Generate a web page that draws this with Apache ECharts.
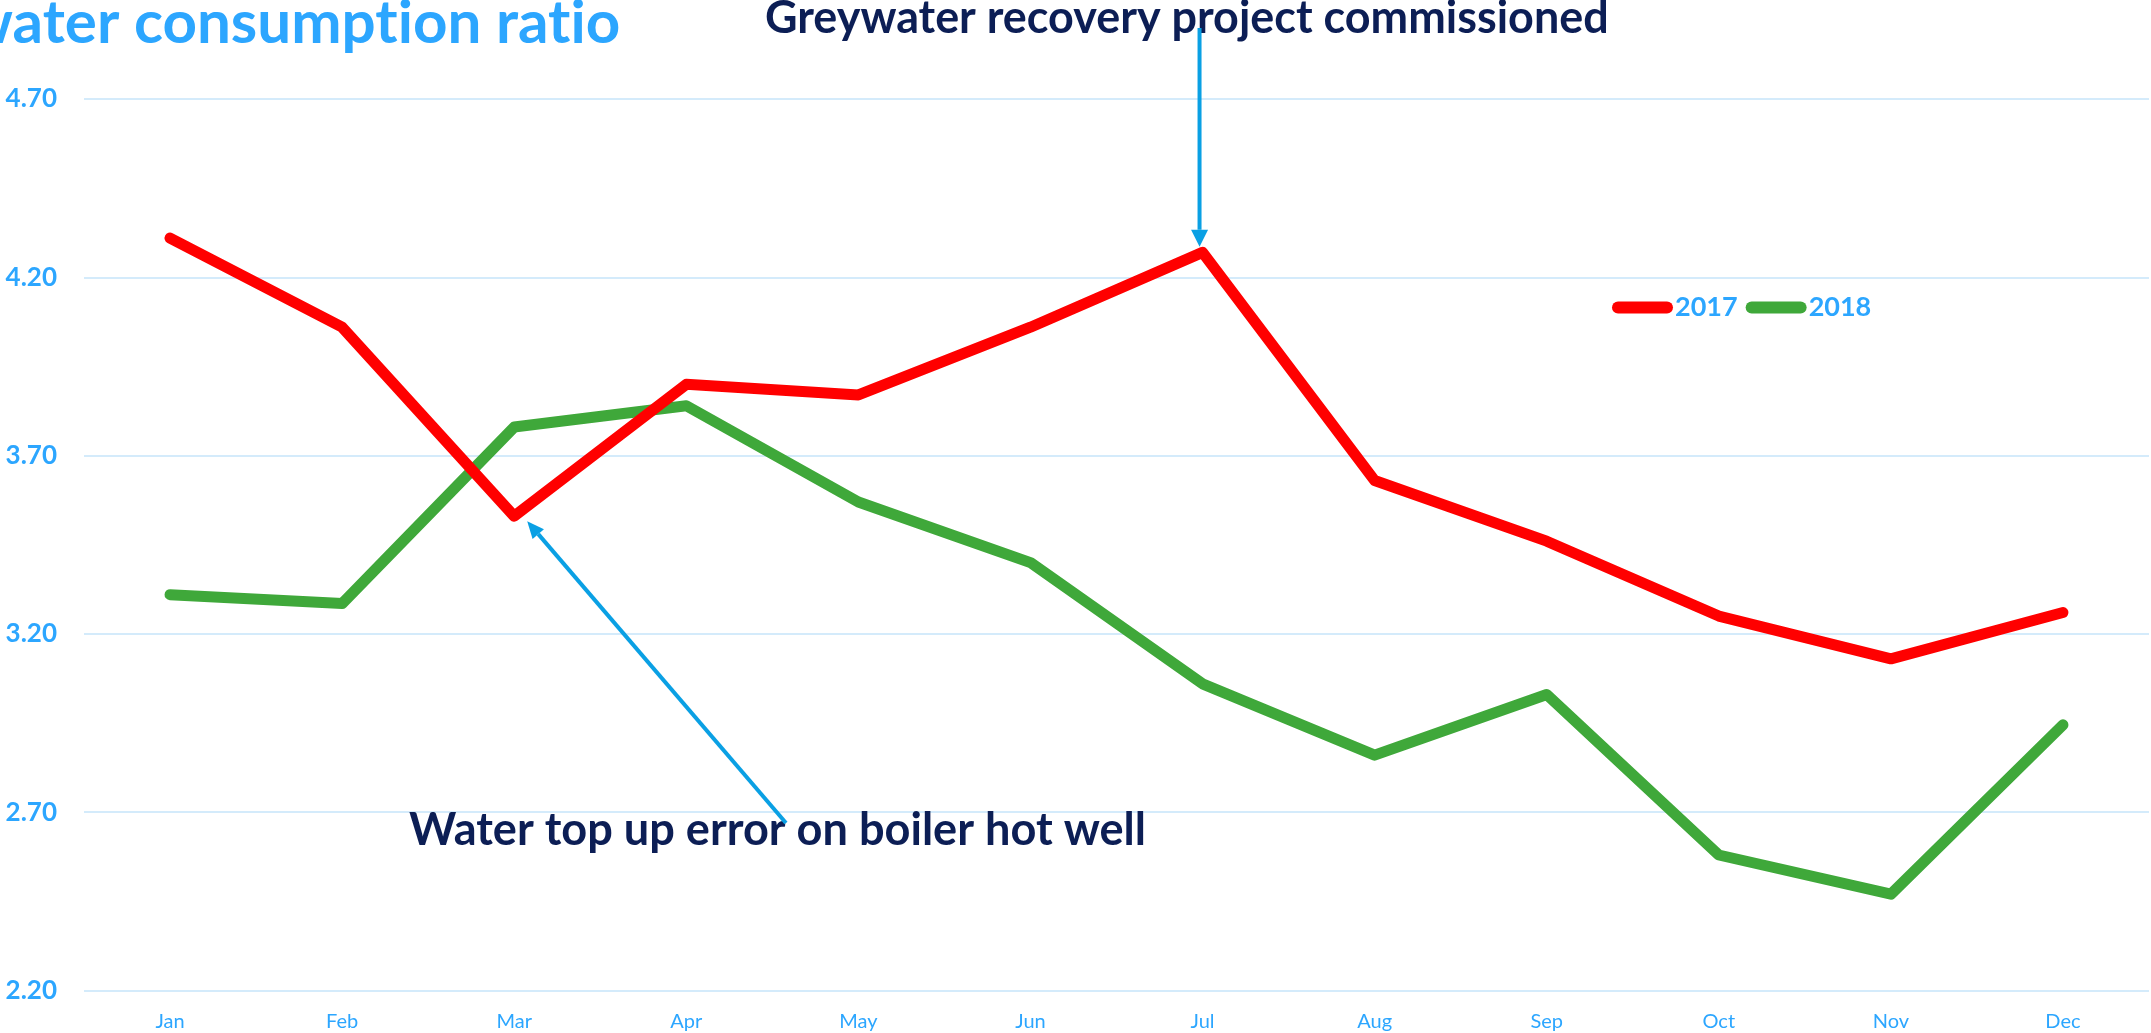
<!DOCTYPE html>
<html><head><meta charset="utf-8">
<script src="https://cdn.jsdelivr.net/npm/echarts@6/dist/echarts.min.js"></script>
<style>html,body{margin:0;padding:0;background:#fff;overflow:hidden}#c{width:2151px;height:1033px}</style>
</head><body><div id="c"></div>
<script>
// ---- data ----
const months = ['Jan','Feb','Mar','Apr','May','Jun','Jul','Aug','Sep','Oct','Nov','Dec'];
const seriesNames = ['2017','2018'];
const values2017 = [4.31, 4.06, 3.53, 3.90, 3.87, 4.06, 4.27, 3.63, 3.46, 3.25, 3.13, 3.26];
const values2018 = [3.31, 3.285, 3.78, 3.84, 3.57, 3.40, 3.06, 2.86, 3.03, 2.58, 2.47, 2.945];
const yTickLabels = ['2.20','2.70','3.20','3.70','4.20','4.70'];
const titleText = 'water consumption ratio';
const note1 = 'Greywater recovery project commissioned';
const note2 = 'Water top up error on boiler hot well';
const note1Month = 'Jul', note2Month = 'Mar';

// ---- style ----
const FONT = 'Lato';
const BLUE = '#2CA6FF';
const NAVY = '#0C1E55';
const ARROW = '#0AA0E4';
const RED = '#FF0000';
const GREEN = '#3FA83A';
const LINE_W = 11;

function measure(text, weight, size) {
  const ctx = document.createElement('canvas').getContext('2d');
  ctx.font = weight + ' ' + size + 'px ' + FONT;
  return ctx.measureText(text).width;
}
function fit(text, weight, w) { return 100 * w / measure(text, weight, 100); }
// avoid the "ti" ligature of Lato so glyphs look like the reference
const noLig = s => s.replace(/ti/g, 't\u200Ci');

const chart = echarts.init(document.getElementById('c'));
chart.setOption({
  animation: false,
  backgroundColor: '#fff',
  grid: { left: 84, right: 2, top: 99, bottom: 42.5, outerBoundsMode: 'none', containLabel: false },
  xAxis: {
    type: 'category', data: months, boundaryGap: true,
    axisLine: { show: false }, axisTick: { show: false },
    axisLabel: { color: BLUE, fontFamily: FONT, fontSize: 20, margin: 21 }
  },
  yAxis: {
    type: 'value', min: 2.2, max: 4.7, interval: 0.5,
    axisLine: { show: false }, axisTick: { show: false },
    axisLabel: { color: BLUE, fontFamily: FONT, fontWeight: 'bold', fontSize: 26, margin: 27,
      formatter: v => yTickLabels.find(t => Math.abs(parseFloat(t) - v) < 1e-6) || v.toFixed(2) },
    splitLine: { lineStyle: { color: '#D4EBFB', width: 2 } }
  },
  legend: {
    data: seriesNames, left: 1612, top: 294, padding: 0, itemGap: 8,
    itemWidth: 61, itemHeight: 12,
    icon: 'path://M6 0H55A6 6 0 0 1 55 12H6A6 6 0 0 1 6 0Z',
    textStyle: { color: BLUE, fontFamily: FONT, fontWeight: 'bold', fontSize: 27, padding: [0, 0, 0, -3] }
  },
  series: [
    { name: seriesNames[0], type: 'line', data: values2017, symbol: 'none',
      itemStyle: { color: RED }, lineStyle: { color: RED, width: LINE_W, cap: 'round', join: 'round' }, z: 3 },
    { name: seriesNames[1], type: 'line', data: values2018, symbol: 'none',
      itemStyle: { color: GREEN }, lineStyle: { color: GREEN, width: LINE_W, cap: 'round', join: 'round' }, z: 2 }
  ]
});

// ---- annotations ----
const tSize = fit('ater consumption ratio', 'bold', 610);
const tX = 13 - measure('w', 'bold', tSize);
const n1Size = fit(note1, 'bold', 844);
const n2Size = fit(note2, 'bold', 737);

const p1 = chart.convertToPixel({ seriesIndex: 0 }, [months.indexOf(note1Month), values2017[months.indexOf(note1Month)]]);
const p2 = chart.convertToPixel({ seriesIndex: 0 }, [months.indexOf(note2Month), values2017[months.indexOf(note2Month)]]);

function arrow(x1, y1, x2, y2, headLen, headW) {
  const dx = x2 - x1, dy = y2 - y1, L = Math.hypot(dx, dy);
  const ux = dx / L, uy = dy / L;
  const bx = x2 - ux * headLen, by = y2 - uy * headLen;
  return [
    { type: 'line', shape: { x1, y1, x2: bx, y2: by }, style: { stroke: ARROW, lineWidth: 4 }, z: 10 },
    { type: 'polygon', shape: { points: [[x2, y2], [bx - uy * headW / 2, by + ux * headW / 2], [bx + uy * headW / 2, by - ux * headW / 2]] },
      style: { fill: ARROW }, z: 10 }
  ];
}

chart.setOption({
  graphic: [
    { type: 'text', x: tX, y: 45 - 0.36 * tSize, z: 10,
      style: { text: noLig(titleText), fill: BLUE, font: 'bold ' + tSize + 'px ' + FONT, verticalAlign: 'middle' } },
    { type: 'text', x: 765, y: 35 - 0.36 * n1Size, z: 10,
      style: { text: note1, fill: NAVY, font: 'bold ' + n1Size + 'px ' + FONT, verticalAlign: 'middle' } },
    { type: 'text', x: 409, y: 847 - 0.36 * n2Size, z: 10,
      style: { text: note2, fill: NAVY, font: 'bold ' + n2Size + 'px ' + FONT, verticalAlign: 'middle' } },
    ...arrow(p1[0] - 3, 28, p1[0] - 3, p1[1] - LINE_W / 2, 17, 17),
    ...arrow(786, 823, p2[0] + 13, p2[1] + 5, 17, 15)
  ]
});
</script>
</body></html>
